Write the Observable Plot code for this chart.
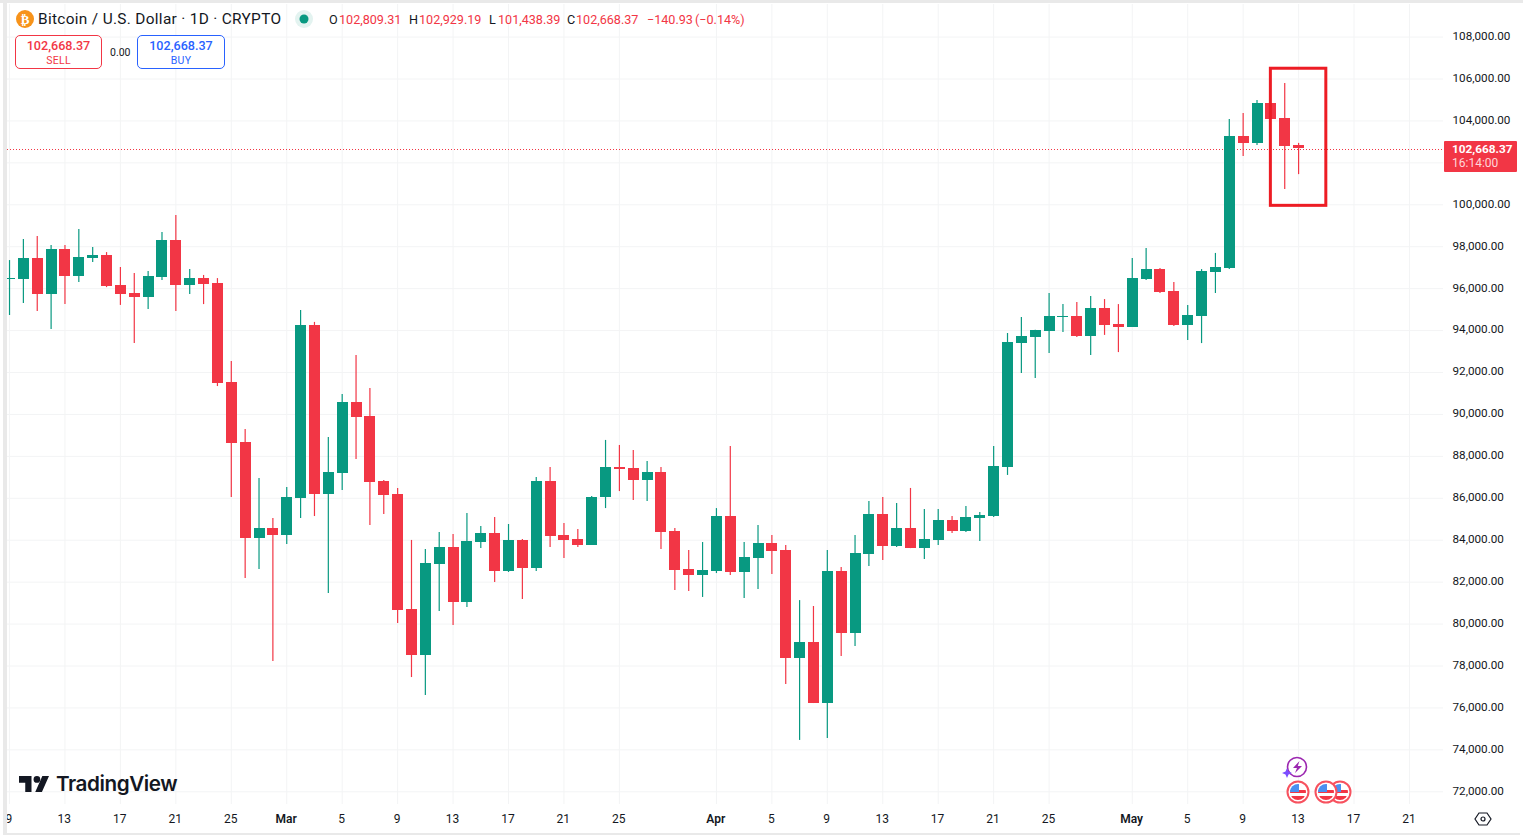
<!DOCTYPE html>
<html>
<head>
<meta charset="utf-8">
<script src="https://cdn.jsdelivr.net/npm/d3@7"></script>
<script src="https://cdn.jsdelivr.net/npm/@observablehq/plot@0.6"></script>
<style>
  html, body { margin: 0; background: #fff; overflow: hidden; }
  #wrap { position: relative; width: 1523px; height: 836px; font-family: Roboto, sans-serif; color: #131722; }
  #wrap svg { display: block; }
  .abs { position: absolute; white-space: nowrap; }
  .r { color: #f23645; }
  .box { position: absolute; box-sizing: border-box; top: 35px; height: 34px; border: 1px solid; border-radius: 5px; text-align: center; background: #fff; }
  .box b { display: block; font-weight: 500; font-size: 12.6px; line-height: 14px; margin-top: 3px; }
  .box span { display: block; font-size: 10.5px; line-height: 13px; margin-top: 1px; letter-spacing: 0.3px; }
</style>
</head>
<body>
<div id="wrap">
  <div id="chart"></div>

  <div class="abs" style="left:0;top:0;width:1523px;height:3px;background:#e9e9e9"></div>
  <div class="abs" style="left:0;top:3px;width:3px;height:833px;background:#fff"></div>
  <div class="abs" style="left:3px;top:3px;width:4px;height:830px;background:#e9e9e9"></div>
  <div class="abs" style="left:3px;top:833px;width:1517px;height:2px;background:#e9e9e9"></div>

  <svg class="abs" style="left:16px;top:10px" width="18" height="18">
    <circle cx="9" cy="9" r="9" fill="#f7931a"/>
    <text x="9" y="13.5" text-anchor="middle" fill="#fff" font-size="13" font-weight="700" font-family="DejaVu Sans">₿</text>
  </svg>
  <div class="abs" style="left:38px;top:10px;font-size:15.4px;line-height:19px;letter-spacing:0.32px">Bitcoin / U.S. Dollar · 1D · CRYPTO</div>
  <svg class="abs" style="left:295px;top:10px" width="18" height="18">
    <circle cx="9" cy="9" r="9" fill="#e3f3f0"/><circle cx="9" cy="9" r="4.5" fill="#089981"/>
  </svg>
  <div id="ohlc"></div>

  <div class="box r" style="left:15px;width:87px;border-color:#f23645"><b>102,668.37</b><span>SELL</span></div>
  <div class="abs" style="left:110px;top:46px;font-size:10.5px;line-height:13px">0.00</div>
  <div class="box" style="left:137px;width:88px;border-color:#2962ff;color:#2962ff"><b>102,668.37</b><span>BUY</span></div>

  <div class="abs" style="left:1444px;top:141px;width:73px;height:31px;background:#f23645;border-radius:1px;color:#fff">
    <div class="abs" style="left:8px;top:1px;font-size:11.8px;font-weight:700;line-height:14px">102,668.37</div>
    <div class="abs" style="left:8px;top:15px;font-size:12px;line-height:14px;color:#ffd5d9">16:14:00</div>
  </div>

  <svg class="abs" style="left:19px;top:776px" width="30" height="16" viewBox="0 0 36 19">
    <path d="M0 0H15V19H7.5V8H0Z M36 0L27.5 19H19.5L28 0Z" fill="#131722"/>
    <circle cx="21.5" cy="4" r="4" fill="#131722"/>
  </svg>
  <div class="abs" style="left:56px;top:771px;font-family:Inter,sans-serif;font-size:20.7px;font-weight:600;line-height:26px;letter-spacing:-0.45px">TradingView</div>

  <svg class="abs" style="left:1280px;top:752px" width="80" height="54">
    <defs>
      <g id="flag">
        <circle r="10.5" fill="#fff" stroke="#f7525f" stroke-width="2"/>
        <clipPath id="flagClip"><circle r="8"/></clipPath>
        <g clip-path="url(#flagClip)">
          <rect x="-8" y="-8" width="16" height="16" fill="#fff"/>
          <rect x="-8" y="-2" width="16" height="3" fill="#f23645"/>
          <rect x="-8" y="4" width="16" height="4" fill="#f23645"/>
          <rect x="-8" y="-8" width="9" height="8" fill="#4a90f0"/>
        </g>
      </g>
    </defs>
    <circle cx="17" cy="15" r="9.5" fill="#fff" stroke="#9c27b0" stroke-width="1.6"/>
    <path d="M19.5 9L13 16H17L15 21L22 14H17.8Z" fill="#9c27b0"/>
    <path d="M7 17L8.5 20.5L12 22L8.5 23.5L7 27L5.5 23.5L2 22L5.500 20.500Z" fill="#7c4dff" transform="translate(0,-1)"/>
    <use href="#flag" x="60" y="40"/>
    <use href="#flag" x="46" y="40"/>
    <use href="#flag" x="18" y="40"/>
  </svg>
  <svg class="abs" style="left:1474px;top:810px" width="18" height="18">
    <path d="M5 3H13L17 9L13 15H5L1 9Z" fill="none" stroke="#131722" stroke-width="1.200"/>
    <circle cx="9" cy="9" r="2" fill="none" stroke="#131722" stroke-width="1.200"/>
  </svg>
</div>

<script>
// Bitcoin daily candles, Feb 9 to May 13 2025
const firstDay = Date.UTC(2025, 1, 9)

const openPrice = [
  96440, 96440, 97440, 95720, 97870, 96580, 97440, 97580, 96150, 95770,
  95580, 96530, 98300, 96150, 96480, 96250, 91520, 88660, 84080, 84560,
  84220, 85990, 94240, 86180, 87180, 90570, 89900, 86800, 86180, 80700,
  78500, 82840, 83650, 81030, 83890, 84320, 82510, 83990, 82650, 86800,
  84220, 84040, 83750, 86040, 87470, 87420, 86850, 87230, 84420, 82600,
  82320, 82510, 85130, 82460, 83130, 83840, 83510, 78360, 79120, 76210,
  82510, 79550, 83320, 85230, 83700, 84560, 83600, 83990, 84940, 84420,
  85040, 85130, 87470, 93380, 93670, 93960, 94620, 94670, 93720, 95050,
  94290, 94150, 96440, 96910, 95860, 94240, 94670, 96770, 96960, 103260,
  102920, 104830, 104120, 102809.31
]
const highPrice = [
  97340, 98350, 98490, 98060, 98060, 98820, 97960, 97720, 97010, 96720,
  96820, 98680, 99490, 96910, 96630, 96480, 92520, 89280, 86940, 85040,
  86520, 94960, 94390, 88900, 90950, 92810, 91240, 86850, 86470, 83990,
  83560, 84370, 84270, 85280, 84660, 85080, 84750, 84040, 86990, 87470,
  84800, 84510, 86090, 88760, 88520, 88280, 87760, 87470, 84560, 83510,
  83890, 85510, 88470, 83890, 84700, 84220, 83750, 81120, 80840, 83510,
  82700, 84220, 85850, 86040, 85750, 86470, 85470, 85470, 85130, 85610,
  85320, 88470, 93860, 94620, 94010, 95770, 95240, 95340, 95630, 95480,
  95240, 97440, 97920, 96960, 96290, 95200, 96910, 97680, 104070, 104360,
  104980, 104830, 105790, 102929.19
]
const lowPrice = [
  94720, 95290, 94910, 94050, 95240, 96290, 97250, 96050, 95200, 93380,
  95010, 96390, 94910, 95720, 95240, 91330, 86040, 82170, 82600, 78220,
  83800, 85040, 85130, 81460, 86370, 87850, 84700, 85230, 80030, 77450,
  76590, 80600, 79930, 80790, 83600, 81980, 82460, 81170, 82510, 83650,
  83130, 83650, 83750, 85510, 86320, 85900, 85850, 83560, 81600, 81550,
  81270, 82410, 82320, 81220, 81650, 82360, 77120, 74450, 76210, 74540,
  78450, 78930, 82750, 83030, 83650, 83600, 83080, 83750, 84320, 84370,
  83940, 85080, 87090, 91950, 91710, 92910, 93910, 93670, 92810, 93770,
  92950, 94150, 96390, 95770, 94190, 93530, 93380, 95770, 96910, 102300,
  102830, 104070, 100730, 101438.39
]
const closePrice = [
  96480, 97440, 95720, 97870, 96580, 97490, 97580, 96100, 95720, 95580,
  96580, 98300, 96150, 96480, 96200, 91480, 88610, 84080, 84560, 84220,
  86040, 94240, 86180, 87230, 90570, 89850, 86750, 86130, 80650, 78500,
  82890, 83650, 81030, 83940, 84320, 82510, 83990, 82650, 86800, 84180,
  83990, 83750, 86040, 87470, 87370, 86850, 87230, 84370, 82560, 82320,
  82560, 85130, 82460, 83180, 83840, 83460, 78360, 79120, 76210, 82510,
  79550, 83370, 85230, 83700, 84560, 83600, 84040, 84940, 84420, 85080,
  85180, 87520, 93430, 93720, 94000, 94670, 94680, 93720, 95050, 94240,
  94150, 96480, 96910, 95820, 94240, 94720, 96820, 97010, 103260, 102920,
  104830, 104070, 102770, 102668.37
]

const lastPrice = 102668.37
const priceTicks = [72000, 74000, 76000, 78000, 80000, 82000, 84000, 86000, 88000, 90000, 92000, 94000, 96000, 98000, 100000, 102000, 104000, 106000, 108000]
const hiddenPriceTick = 102000

const utc = (m, d) => new Date(Date.UTC(2025, m - 1, d))
const dayTicks = [[2,9],[2,13],[2,17],[2,21],[2,25],[3,5],[3,9],[3,13],[3,17],[3,21],[3,25],[4,5],[4,9],[4,13],[4,17],[4,21],[4,25],[5,5],[5,9],[5,13],[5,17],[5,21]].map(d => utc(d[0], d[1]))
const monthTicks = [utc(3,1), utc(4,1), utc(5,1)]
const monthNames = {2: 'Mar', 3: 'Apr', 4: 'May'}

const candles = openPrice.map((o, i) => ({
  date: new Date(firstDay + i * 864e5),
  open: o, high: highPrice[i], low: lowPrice[i], close: closePrice[i]
}))
const candleColor = d => d.close >= d.open ? '#089981' : '#f23645'

// red marker box around the last three days
const marker = [{x1: utc(5,11), x2: utc(5,15), y1: 99950, y2: 106490}]

const chart = Plot.plot({
  width: 1523,
  height: 836,
  marginTop: 4,
  marginBottom: 32,
  marginLeft: 7,
  marginRight: 80,
  style: {fontFamily: 'Roboto, sans-serif', fontSize: '12px', color: '#131722', background: '#fff'},
  x: {type: 'utc', domain: [new Date(Date.UTC(2025, 1, 8, 20, 30)), new Date(Date.UTC(2025, 4, 23, 10, 54))]},
  y: {domain: [71394, 109554]},
  marks: [
    Plot.ruleY(priceTicks, {stroke: '#f3f4f5', strokeWidth: 1}),
    Plot.ruleX(dayTicks.concat(monthTicks), {stroke: '#f3f4f5', strokeWidth: 1}),
    Plot.ruleY([lastPrice], {stroke: '#f23645', strokeWidth: 1, strokeDasharray: '1,2', dy: 0.5, shapeRendering: 'crispEdges'}),
    Plot.ruleX(candles, {x: 'date', y1: 'low', y2: 'high', stroke: candleColor, strokeWidth: 1.2}),
    Plot.ruleX(candles, {x: 'date', y1: 'open', y2: 'close', stroke: candleColor, strokeWidth: 11, shapeRendering: 'crispEdges'}),
    Plot.rect(marker, {x1: 'x1', x2: 'x2', y1: 'y1', y2: 'y2', fill: 'none', stroke: '#ed1c24', strokeWidth: 3}),
    Plot.axisY({
      anchor: 'right', ticks: priceTicks.filter(d => d != hiddenPriceTick),
      tickFormat: d3.format(',.2f'), tickSize: 0, tickPadding: 9, label: null,
      dy: -0.85, fontSize: 11.7, fill: '#131722'
    }),
    Plot.axisX({
      ticks: dayTicks, tickFormat: d => d.getUTCDate(),
      tickSize: 0, tickPadding: 10, label: null, fontSize: 12, fill: '#131722', dx: -0.6
    }),
    Plot.axisX({
      ticks: monthTicks, tickFormat: d => monthNames[d.getUTCMonth()],
      tickSize: 0, tickPadding: 10, label: null, fontSize: 12, fontWeight: 600, fill: '#131722', dx: -0.6
    })
  ]
})
d3.select('#chart').append(() => chart)

// O H L C strip in the header, each piece sits at its own spot
const ohlcLabels = [
  ['O', 329, 0], ['102,809.31', 339, 1], ['H', 409, 0], ['102,929.19', 419, 1],
  ['L', 489, 0], ['101,438.39', 498, 1], ['C', 567, 0], ['102,668.37', 576, 1],
  ['−140.93', 647, 1], ['(−0.14%)', 695, 1]
]
d3.select('#ohlc').selectAll('div').data(ohlcLabels).join('div')
  .attr('class', d => d[2] ? 'abs r' : 'abs')
  .style('left', d => d[1] + 'px')
  .style('top', '11px')
  .style('font-size', '12.6px')
  .style('line-height', '17px')
  .text(d => d[0])
</script>
</body>
</html>
